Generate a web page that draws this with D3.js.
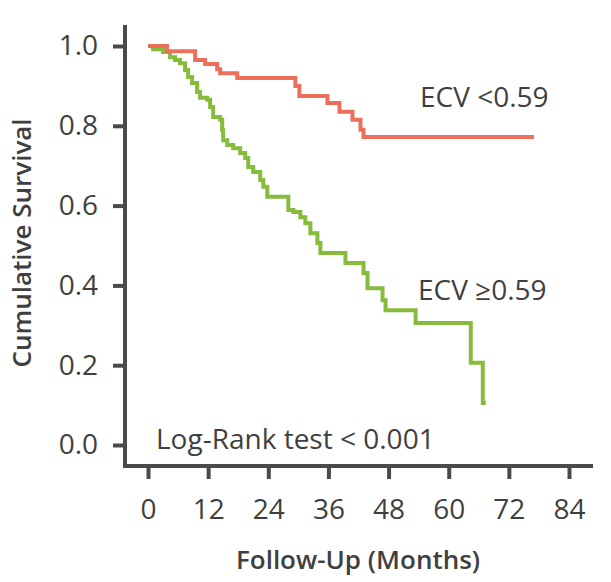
<!DOCTYPE html>
<html>
<head>
<meta charset="utf-8">
<script src="https://cdn.jsdelivr.net/npm/d3@7"></script>
<style>
  html, body { margin: 0; padding: 0; background: #fff; }
  svg { display: block; font-family: "Open Sans", "Noto Sans", sans-serif; }
</style>
</head>
<body>
<div id="chart"></div>
<script>
// Kaplan-Meier steps: [month, survival after the drop]
const lowEcvSteps = [
    [0, 1.0], [3.8, 0.987], [9.4, 0.965], [11.4, 0.955], [13.8, 0.942],
    [14.4, 0.932], [17.8, 0.92], [29.4, 0.9], [30.2, 0.875], [35.8, 0.857],
    [38.2, 0.835], [40.8, 0.815], [42.4, 0.79], [43.0, 0.772], [77, 0.772]
];
const highEcvSteps = [
    [0, 1.0], [1.0, 0.992], [3.0, 0.985], [4.4, 0.972], [5.4, 0.965],
    [6.4, 0.957], [7.4, 0.94], [8.0, 0.922], [8.8, 0.907], [9.8, 0.885],
    [10.4, 0.87], [11.8, 0.865], [12.4, 0.847], [13.0, 0.822], [14.4, 0.815],
    [14.8, 0.789], [15.0, 0.764], [15.8, 0.752], [17.0, 0.744], [18.4, 0.732],
    [19.4, 0.719], [20.0, 0.697], [21.0, 0.684], [22.4, 0.664], [23.0, 0.647],
    [23.8, 0.622], [28.0, 0.589], [29.0, 0.584], [30.4, 0.571], [31.4, 0.556],
    [32.4, 0.531], [33.8, 0.506], [34.4, 0.481], [39.4, 0.456], [43.0, 0.431],
    [43.8, 0.393], [46.8, 0.363], [47.4, 0.338], [53.4, 0.306], [64.4, 0.206],
    [66.8, 0.105], [67.4, 0.105]
];
const xTicks = [0, 12, 24, 36, 48, 60, 72, 84];
const yTicks = [0, 0.2, 0.4, 0.6, 0.8, 1.0];

const width = 611, height = 582;
const axisColor = "#4a4a4a";
const textColor = "#3f3f3f";
const fontSize = 28;

const svg = d3.select("#chart").append("svg")
    .attr("width", width)
    .attr("height", height);

const x = d3.scaleLinear().domain([0, 84]).range([148, 569]);
const y = d3.scaleLinear().domain([0, 1]).range([445, 46]);

// Axis lines drawn a bit past the scale ranges, like the original
svg.append("line")
    .attr("x1", 125).attr("x2", 125)
    .attr("y1", 25).attr("y2", 468)
    .style("stroke", axisColor).style("stroke-width", "4px");
svg.append("line")
    .attr("x1", 123).attr("x2", 593)
    .attr("y1", 466).attr("y2", 466)
    .style("stroke", axisColor).style("stroke-width", "4px");

const yAxis = svg.append("g")
    .attr("transform", "translate(125,0)")
    .call(d3.axisLeft(y).tickValues(yTicks).tickSize(12).tickPadding(15).tickFormat(d3.format(".1f")));
const xAxis = svg.append("g")
    .attr("transform", "translate(0,466)")
    .call(d3.axisBottom(x).tickValues(xTicks).tickSize(13).tickPadding(21));

[yAxis, xAxis].forEach(a => {
    a.select(".domain").remove();
    a.selectAll(".tick line").style("stroke", axisColor).style("stroke-width", "4px");
    a.selectAll(".tick text")
        .style("font-size", fontSize + "px")
        .style("font-family", "'Open Sans', sans-serif")
        .style("fill", textColor);
});
xAxis.selectAll(".tick text").attr("dy", "0.68em");

// Survival curves
const line = d3.line()
    .x(d => x(d[0]))
    .y(d => y(d[1]))
    .curve(d3.curveStepAfter);

svg.append("path")
    .datum(highEcvSteps)
    .attr("d", line)
    .style("fill", "none")
    .style("stroke", "#86bb3b")
    .style("stroke-width", "4px");

svg.append("path")
    .datum(lowEcvSteps)
    .attr("d", line)
    .style("fill", "none")
    .style("stroke", "#eb6f5b")
    .style("stroke-width", "4px");

// Labels
function label(txt, px, py, opts = {}) {
    return svg.append("text")
        .attr("x", px).attr("y", py)
        .attr("text-anchor", opts.anchor || "start")
        .attr("dominant-baseline", "central")
        .attr("transform", opts.rotate ? `rotate(-90, ${px}, ${py})` : null)
        .style("font-size", (opts.size || fontSize) + "px")
        .style("font-weight", opts.weight || 400)
        .style("fill", textColor)
        .text(txt);
}

label("ECV <0.59", 420, 96);
label("ECV \u22650.59", 418, 289);
label("Log-Rank test < 0.001", 156, 438);
label("Follow-Up (Months)", 358, 559, { anchor: "middle", weight: 600, size: 26 });
label("Cumulative Survival", 21, 243, { anchor: "middle", weight: 600, size: 26, rotate: true });
</script>
</body>
</html>
